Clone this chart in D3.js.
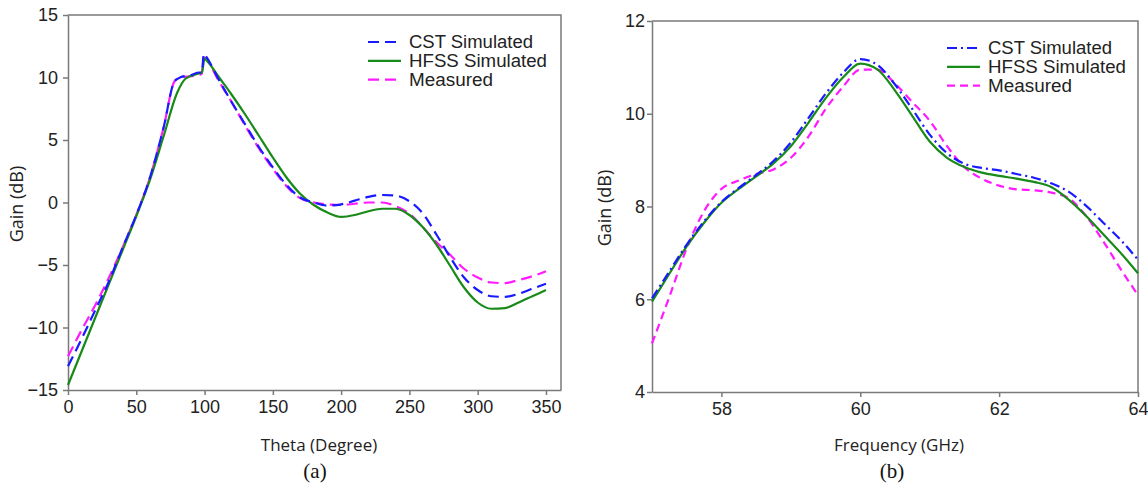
<!DOCTYPE html>
<html>
  <head>
    <title>Gain plots</title>
    <meta charset="utf-8" />
    <style>
      body { margin: 0; background: #fff; }
    </style>
  </head>
  <body>
    <div id="fig"></div>
    <script src="https://d3js.org/d3.v7.min.js"></script>
    <script type="text/javascript">
        // (a) gain vs theta
        const theta = [0, 10, 20, 30, 40, 50, 60, 70, 78, 82, 90, 96, 98, 99.5, 101, 110, 120, 130, 140, 150, 160, 170, 180, 190, 200, 210, 220, 230, 240, 250, 260, 270, 280, 290, 300, 310, 320, 330, 340, 350];
        const cstA = [-13.1, -10.9, -8.6, -6.3, -3.6, -1.0, 2.0, 6.0, 9.7, 10.0, 10.2, 10.4, 10.4, 11.9, 11.7, 9.9, 8.0, 6.2, 4.4, 2.8, 1.4, 0.4, 0.0, -0.25, -0.15, 0.15, 0.45, 0.6, 0.55, 0.1, -0.9, -2.6, -4.4, -6.0, -7.0, -7.5, -7.55, -7.3, -6.9, -6.5];
        const measA = [-12.3, -10.2, -8.2, -6.0, -3.6, -1.0, 2.0, 6.0, 9.7, 10.0, 10.1, 10.2, 10.3, 11.6, 11.5, 9.8, 8.0, 6.1, 4.3, 2.7, 1.3, 0.35, 0.0, -0.15, -0.2, -0.1, 0.0, 0.0, -0.3, -0.9, -2.0, -3.2, -4.2, -5.3, -6.0, -6.4, -6.45, -6.2, -5.9, -5.5];
        const thetaH = [0, 10, 20, 30, 40, 50, 60, 70, 80, 86, 95, 98, 100, 102, 110, 120, 130, 140, 150, 160, 170, 180, 190, 200, 210, 220, 230, 240, 250, 260, 270, 280, 290, 300, 310, 320, 330, 340, 350];
        const hfssA = [-14.6, -11.9, -9.2, -6.5, -3.8, -1.1, 1.8, 5.3, 8.8, 9.9, 10.3, 10.4, 11.5, 11.3, 10.1, 8.6, 7.0, 5.3, 3.6, 2.0, 0.7, -0.2, -0.8, -1.15, -1.0, -0.7, -0.5, -0.5, -1.0, -2.0, -3.4, -5.1, -6.8, -8.0, -8.5, -8.45, -8.0, -7.5, -7.0];
        const thetaTicks = [0, 50, 100, 150, 200, 250, 300, 350];
        const gainTicksA = [-15, -10, -5, 0, 5, 10, 15];

        // (b) gain vs frequency
        const freq = [57, 57.25, 57.5, 57.75, 58, 58.25, 58.5, 58.75, 59, 59.25, 59.5, 59.75, 60, 60.25, 60.5, 60.75, 61, 61.25, 61.5, 61.75, 62, 62.25, 62.5, 62.75, 63, 63.25, 63.5, 63.75, 64];
        const cstB = [6.02, 6.6, 7.18, 7.68, 8.1, 8.4, 8.68, 8.98, 9.38, 9.9, 10.43, 10.88, 11.18, 11.05, 10.63, 10.1, 9.55, 9.15, 8.92, 8.83, 8.78, 8.7, 8.62, 8.5, 8.32, 8.02, 7.65, 7.28, 6.85];
        const hfssB = [5.95, 6.55, 7.14, 7.65, 8.08, 8.38, 8.65, 8.93, 9.3, 9.8, 10.33, 10.78, 11.08, 10.95, 10.5, 9.95, 9.4, 9.05, 8.85, 8.73, 8.66, 8.6, 8.53, 8.42, 8.15, 7.8, 7.4, 7.0, 6.56];
        const measB = [5.05, 6.05, 7.1, 7.9, 8.38, 8.56, 8.7, 8.8, 9.05, 9.5, 10.1, 10.58, 10.95, 10.95, 10.65, 10.25, 9.85, 9.3, 8.85, 8.6, 8.45, 8.37, 8.35, 8.3, 8.18, 7.8, 7.25, 6.65, 6.09];
        const freqTicks = [58, 60, 62, 64];
        const gainTicksB = [4, 6, 8, 10, 12];

        const seriesNames = ["CST Simulated", "HFSS Simulated", "Measured"];

        const width = 1148;
        const height = 486;
        const frameColor = "#7a7a7a";
        const sansFont = "Liberation Sans, Arial, sans-serif";

        const svg = d3.select("#fig")
            .append("svg")
            .attr("width", width)
            .attr("height", height);

        function panel(opt) {
            const x = d3.scaleLinear().domain(opt.xDomain).range([opt.left, opt.right]);
            const y = d3.scaleLinear().domain(opt.yDomain).range([opt.bottom, opt.top]);
            const g = svg.append("g");

            // frame (top and right)
            g.append("path")
                .attr("d", `M${opt.left},${opt.top}H${opt.right}V${opt.bottom}`)
                .attr("fill", "none")
                .attr("stroke", frameColor)
                .attr("stroke-width", 1.5);

            const xAxis = g.append("g")
                .attr("transform", `translate(0,${opt.bottom})`)
                .call(d3.axisBottom(x).tickValues(opt.xTicks).tickFormat(d3.format("d"))
                    .tickSize(5).tickSizeOuter(0).tickPadding(5));
            const yAxis = g.append("g")
                .attr("transform", `translate(${opt.left},0)`)
                .call(d3.axisLeft(y).tickValues(opt.yTicks).tickFormat(d3.format("d"))
                    .tickSize(5).tickSizeOuter(0).tickPadding(opt.yPad));
            [xAxis, yAxis].forEach(a => {
                a.selectAll(".domain, line").attr("stroke", frameColor).attr("stroke-width", 1.5);
                a.selectAll("text")
                    .attr("fill", "#222")
                    .attr("font-family", sansFont)
                    .attr("font-size", 18);
            });

            const line = d3.line()
                .x(d => x(d[0]))
                .y(d => y(d[1]))
                .curve(d3.curveMonotoneX);

            const curves = g.append("g");
            opt.series.slice().reverse().forEach(s => {
                curves.append("path")
                    .datum(d3.zip(s.xs, s.ys))
                    .attr("d", line)
                    .attr("fill", "none")
                    .attr("stroke", s.color)
                    .attr("stroke-width", 2.2)
                    .attr("stroke-dasharray", s.dash);
            });

            // legend
            const leg = g.append("g")
                .attr("transform", `translate(${opt.legX},${opt.legY})`);
            opt.series.forEach((s, i) => {
                const row = leg.append("g").attr("transform", `translate(0,${i * 18.8})`);
                row.append("line")
                    .attr("x1", 0).attr("x2", 33)
                    .attr("stroke", s.color)
                    .attr("stroke-width", 2.2)
                    .attr("stroke-dasharray", s.dash);
                row.append("text")
                    .attr("x", 41)
                    .attr("dy", "0.36em")
                    .attr("fill", "#222")
                    .attr("font-family", sansFont)
                    .attr("font-size", 17.5)
                    .attr("textLength", opt.legW[i])
                    .attr("lengthAdjust", "spacingAndGlyphs")
                    .text(s.name);
            });

            // axis titles
            g.append("text")
                .attr("x", opt.xTitleX)
                .attr("y", 451)
                .attr("text-anchor", "middle")
                .attr("fill", "#222")
                .attr("font-family", "Open Sans, sans-serif")
                .attr("font-size", 17)
                .text(opt.xTitle);
            g.append("text")
                .attr("transform", `translate(${opt.yTitleX},${opt.yTitleY}) rotate(-90)`)
                .attr("text-anchor", "middle")
                .attr("dy", "0.35em")
                .attr("fill", "#222")
                .attr("font-family", "Open Sans, sans-serif")
                .attr("font-size", 18)
                .text("Gain (dB)");
            g.append("text")
                .attr("x", opt.capX)
                .attr("y", 478)
                .attr("text-anchor", "middle")
                .attr("fill", "#111")
                .attr("font-family", "Liberation Serif, Times New Roman, serif")
                .attr("font-size", 21)
                .text(opt.caption);
        }

        panel({
            left: 68, right: 561, top: 15, bottom: 390,
            xDomain: [0, 361], yDomain: [-15, 15],
            xTicks: thetaTicks, yTicks: gainTicksA, yPad: 5,
            xTitle: "Theta (Degree)", xTitleX: 319,
            yTitleX: 17, yTitleY: 204,
            capX: 315, caption: "(a)",
            legX: 368, legY: 42, legW: [124, 138, 84],
            series: [
                { name: seriesNames[0], xs: theta, ys: cstA, color: "#1a1aff", dash: "11,6" },
                { name: seriesNames[1], xs: thetaH, ys: hfssA, color: "#178a17", dash: null },
                { name: seriesNames[2], xs: theta, ys: measA, color: "#ff1aff", dash: "11,6" }
            ]
        });

        panel({
            left: 652, right: 1138, top: 21, bottom: 392,
            xDomain: [57, 64], yDomain: [4, 12],
            xTicks: freqTicks, yTicks: gainTicksB, yPad: 2,
            xTitle: "Frequency (GHz)", xTitleX: 899,
            yTitleX: 605, yTitleY: 208,
            capX: 892, caption: "(b)",
            legX: 947, legY: 48, legW: [124, 138, 84],
            series: [
                { name: seriesNames[0], xs: freq, ys: cstB, color: "#1a1aff", dash: "10,4,2,4" },
                { name: seriesNames[1], xs: freq, ys: hfssB, color: "#178a17", dash: null },
                { name: seriesNames[2], xs: freq, ys: measB, color: "#ff1aff", dash: "8,5" }
            ]
        });
    </script>
  </body>
</html>
